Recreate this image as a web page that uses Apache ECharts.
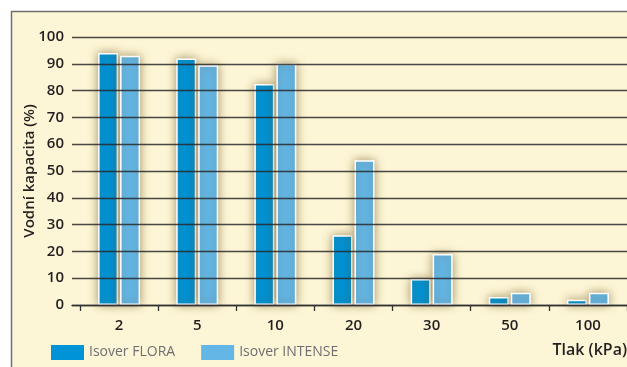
<!DOCTYPE html>
<html><head><meta charset="utf-8">
<script src="https://cdn.jsdelivr.net/npm/echarts@6/dist/echarts.min.js"></script>
<style>html,body{margin:0;padding:0;background:#fff}#c{width:627px;height:367px}</style>
</head><body><div id="c"></div>
<script>
var categories = ['2', '5', '10', '20', '30', '50', '100'];
var flora = [94, 92, 82.5, 26, 9.7, 3, 2];
var intense = [93, 89.5, 90, 54, 19, 4.6, 4.6];
var seriesNames = ['Isover FLORA', 'Isover INTENSE'];

var font = '"Open Sans"';
var chart = echarts.init(document.getElementById('c'));
var barStyle = function (c) {
  return { color: c, borderColor: '#ffffff', borderWidth: 1.5,
    shadowBlur: 10, shadowColor: 'rgba(110,85,30,0.6)' };
};
chart.setOption({
  backgroundColor: '#ffffff',
  animation: false,
  graphic: [{
    type: 'rect', z: -100, silent: true,
    shape: { x: 11.5, y: 11.5, width: 630, height: 370 },
    style: { fill: '#fdf6d6', stroke: '#6f6f6f', lineWidth: 1.5 }
  }, {
    type: 'text', right: 0, top: 342,
    style: { text: 'Tlak (kPa)', font: '600 16px ' + font, fill: '#231f20' }
  }],
  legend: {
    left: 51, top: 345, padding: 0, itemWidth: 33, itemHeight: 15, itemGap: 26,
    icon: 'rect',
    itemStyle: { borderWidth: 0, shadowBlur: 0 },
    textStyle: { fontFamily: font, fontSize: 14, color: '#6d6e71' },
    data: seriesNames
  },
  grid: [
    { left: 72, right: 0, top: 37, bottom: 62, containLabel: false },
    { left: 80, right: 0, top: 37, bottom: 62, containLabel: false }
  ],
  xAxis: [{
    gridIndex: 0, type: 'value', min: 0, max: 1, show: true, z: 10,
    axisLine: { show: true, lineStyle: { color: '#333', width: 1.3 } },
    axisTick: { show: false }, axisLabel: { show: false }, splitLine: { show: false }
  }, {
    gridIndex: 1, type: 'category', data: categories,
    axisLine: { show: false },
    axisTick: { show: true, length: 6, lineStyle: { color: '#333', width: 1.3 } },
    axisLabel: { margin: 13, fontFamily: font, fontSize: 15, fontWeight: 600, color: '#231f20' }
  }],
  yAxis: [{
    gridIndex: 0, type: 'value', min: 0, max: 100, interval: 10, z: 10,
    name: 'Vodní kapacita (%)', nameLocation: 'middle', nameGap: 35, nameRotate: 90,
    nameMoveOverlap: false,
    nameTextStyle: { fontFamily: font, fontSize: 15, fontWeight: 600, color: '#231f20' },
    axisLine: { show: false }, axisTick: { show: false },
    axisLabel: { margin: 8, fontFamily: font, fontSize: 15, fontWeight: 600, color: '#231f20' },
    splitLine: { show: true, lineStyle: { color: 'rgba(40,40,40,0.85)', width: 1.3 } }
  }, {
    gridIndex: 1, type: 'value', min: 0, max: 100, interval: 10, show: false
  }],
  series: [{
    name: seriesNames[0], type: 'bar', xAxisIndex: 1, yAxisIndex: 1, z: 2,
    data: flora, barWidth: 20, barGap: '10%', itemStyle: barStyle('#0093d6')
  }, {
    name: seriesNames[1], type: 'bar', xAxisIndex: 1, yAxisIndex: 1, z: 2,
    data: intense, barWidth: 20, barGap: '10%', itemStyle: barStyle('#63b6e6')
  }]
});
</script></body></html>
